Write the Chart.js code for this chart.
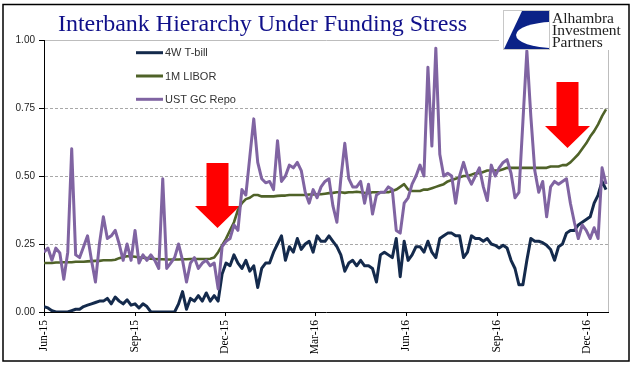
<!DOCTYPE html>
<html>
<head>
<meta charset="utf-8">
<script src="https://cdn.jsdelivr.net/npm/chart.js@4.4.1/dist/chart.umd.min.js"></script>
<style>
  html, body { margin: 0; padding: 0; background: #fff; }
  #wrap { width: 641px; height: 375px; }
</style>
</head>
<body>
<div id="wrap"><canvas id="funding-chart" width="641" height="375"></canvas></div>
<script>
// x = days since 1 Jun 2015, one reading every 4 days
const STEP_DAYS = 4;
const X_MAX = 570;
const tickDays = [0, 92, 183, 274, 366, 458, 549];
const tickLabels = ["Jun-15", "Sep-15", "Dec-15", "Mar-16", "Jun-16", "Sep-16", "Dec-16"];
const seriesNames = ["4W T-bill", "1M LIBOR", "UST GC Repo"];
const seriesColors = ["#142a4c", "#4f6228", "#8064a2"];

const tbill = [
  0.02, 0.015, 0.005, 0, 0, 0, 0, 0.005, 0.01, 0.01,
  0.02, 0.025, 0.03, 0.035, 0.04, 0.04, 0.05, 0.03, 0.055, 0.04,
  0.03, 0.045, 0.025, 0.03, 0.015, 0.03, 0.02, 0, 0, 0,
  0, 0, 0, 0, 0.03, 0.075, 0.01, 0.05, 0.04, 0.06,
  0.04, 0.07, 0.04, 0.06, 0.04, 0.14, 0.18, 0.17, 0.21, 0.18,
  0.16, 0.19, 0.15, 0.17, 0.09, 0.16, 0.18, 0.18, 0.22, 0.25,
  0.28, 0.19, 0.24, 0.22, 0.27, 0.23, 0.25, 0.26, 0.22, 0.28,
  0.26, 0.26, 0.28, 0.26, 0.24, 0.21, 0.15, 0.18, 0.19, 0.17,
  0.19, 0.17, 0.17, 0.16, 0.11, 0.21, 0.22, 0.21, 0.20, 0.27,
  0.13, 0.26, 0.19, 0.21, 0.24, 0.24, 0.22, 0.26, 0.22, 0.20,
  0.27, 0.28, 0.29, 0.29, 0.28, 0.28, 0.20, 0.22, 0.28, 0.27,
  0.27, 0.26, 0.27, 0.25, 0.245, 0.235, 0.245, 0.235, 0.19, 0.16,
  0.10, 0.10, 0.19, 0.27, 0.26, 0.26, 0.255, 0.245, 0.23, 0.19,
  0.24, 0.25, 0.29, 0.30, 0.30, 0.32, 0.33, 0.34, 0.35, 0.40,
  0.43, 0.48, 0.45
];

const libor = [
  0.18, 0.18, 0.18, 0.182, 0.182, 0.183, 0.183, 0.183, 0.185, 0.185,
  0.185, 0.186, 0.187, 0.188, 0.188, 0.19, 0.19, 0.19, 0.192, 0.198,
  0.202, 0.205, 0.205, 0.203, 0.2, 0.2, 0.198, 0.196, 0.195, 0.194,
  0.194, 0.193, 0.193, 0.193, 0.193, 0.194, 0.194, 0.195, 0.195, 0.195,
  0.195, 0.195, 0.196, 0.20, 0.22, 0.245, 0.27, 0.30, 0.33, 0.375,
  0.40, 0.415, 0.42, 0.43, 0.43, 0.425, 0.425, 0.425, 0.425, 0.427,
  0.428, 0.428, 0.43, 0.43, 0.43, 0.43, 0.43, 0.432, 0.432, 0.433,
  0.433, 0.435, 0.437, 0.438, 0.44, 0.44, 0.438, 0.44, 0.44, 0.442,
  0.44, 0.438, 0.437, 0.44, 0.44, 0.44, 0.44, 0.44, 0.445, 0.45,
  0.46, 0.47, 0.45, 0.445, 0.445, 0.445, 0.45, 0.45, 0.455, 0.46,
  0.465, 0.47, 0.48, 0.485, 0.49, 0.495, 0.50, 0.50, 0.505, 0.51,
  0.51, 0.515, 0.52, 0.52, 0.52, 0.52, 0.525, 0.53, 0.53, 0.53,
  0.53, 0.53, 0.53, 0.53, 0.53, 0.53, 0.53, 0.53, 0.535, 0.535,
  0.535, 0.54, 0.54, 0.55, 0.565, 0.58, 0.60, 0.62, 0.645, 0.665,
  0.69, 0.72, 0.745
];

const repo = [
  0.22, 0.235, 0.19, 0.235, 0.217, 0.12, 0.22, 0.60, 0.21, 0.20,
  0.24, 0.28, 0.19, 0.11, 0.25, 0.35, 0.27, 0.28, 0.30, 0.25,
  0.19, 0.25, 0.19, 0.30, 0.18, 0.21, 0.19, 0.21, 0.19, 0.16,
  0.49, 0.16, 0.18, 0.20, 0.25, 0.19, 0.11, 0.18, 0.20, 0.16,
  0.18, 0.19, 0.17, 0.18, 0.085, 0.24, 0.26, 0.27, 0.32, 0.30,
  0.45, 0.43, 0.57, 0.71, 0.55, 0.49, 0.475, 0.48, 0.45, 0.63,
  0.48, 0.50, 0.54, 0.53, 0.55, 0.52, 0.44, 0.40, 0.45, 0.42,
  0.46, 0.48, 0.49, 0.39, 0.33, 0.49, 0.62, 0.49, 0.46, 0.46,
  0.48, 0.40, 0.47, 0.36, 0.43, 0.44, 0.44, 0.46, 0.45, 0.30,
  0.29, 0.40, 0.42, 0.47, 0.50, 0.54, 0.50, 0.90, 0.61, 0.97,
  0.58, 0.50, 0.51, 0.50, 0.40, 0.50, 0.55, 0.50, 0.47, 0.50,
  0.53, 0.46, 0.41, 0.54, 0.50, 0.53, 0.55, 0.56, 0.51, 0.42,
  0.44, 0.70, 0.96, 0.72, 0.52, 0.44, 0.48, 0.35, 0.46, 0.48,
  0.47, 0.48, 0.49, 0.40, 0.33, 0.27, 0.32, 0.30, 0.27, 0.31,
  0.27, 0.53, 0.47
];

const seriesValues = [tbill, libor, repo];

function toPoints(values) {
  return values.map((v, i) => ({ x: i * STEP_DAYS, y: v }));
}

function drawArrow(ctx, cx, shaftW, shaftTop, headW, headTop, tip) {
  ctx.beginPath();
  ctx.moveTo(cx - shaftW / 2, shaftTop);
  ctx.lineTo(cx + shaftW / 2, shaftTop);
  ctx.lineTo(cx + shaftW / 2, headTop);
  ctx.lineTo(cx + headW / 2, headTop);
  ctx.lineTo(cx, tip);
  ctx.lineTo(cx - headW / 2, headTop);
  ctx.lineTo(cx - shaftW / 2, headTop);
  ctx.closePath();
  ctx.fill();
}

// title, logo, legend, arrows and frame
const decor = {
  id: "decor",
  beforeDatasetsDraw(chart) {
    const { ctx, chartArea } = chart;
    ctx.save();
    ctx.strokeStyle = "#bdbdbd";
    ctx.lineWidth = 1;
    ctx.beginPath();
    ctx.moveTo(chartArea.right + 0.5, chartArea.top);
    ctx.lineTo(chartArea.right + 0.5, chartArea.bottom);
    ctx.stroke();

    ctx.fillStyle = "#ff0000";
    drawArrow(ctx, 217.5, 22, 163, 45, 206, 228);
    drawArrow(ctx, 567.5, 22, 82, 45, 126, 148);
    ctx.restore();
  },
  afterDraw(chart) {
    const { ctx } = chart;
    ctx.save();

    // logo
    ctx.fillStyle = "#fff";
    ctx.fillRect(499, 5, 129, 45);
    ctx.save();
    ctx.beginPath();
    ctx.rect(504, 11, 45, 38);
    ctx.clip();
    ctx.fillStyle = "#0b2287";
    ctx.beginPath();
    ctx.moveTo(549, 11);
    ctx.lineTo(522, 11);
    ctx.lineTo(504, 49);
    ctx.lineTo(549, 49);
    ctx.closePath();
    ctx.fill();
    ctx.fillStyle = "#fff";
    ctx.beginPath();
    ctx.ellipse(554, 35, 38, 13, 0, 0, Math.PI * 2);
    ctx.fill();
    ctx.restore();
    ctx.strokeStyle = "#c8c8c8";
    ctx.lineWidth = 1;
    ctx.strokeRect(503.5, 10.5, 46, 39);
    ctx.fillStyle = "#1e1e1e";
    ctx.font = '15.5px "Liberation Serif"';
    ctx.textAlign = "left";
    ctx.textBaseline = "alphabetic";
    ctx.fillText("Alhambra", 552, 22.5);
    ctx.fillText("Investment", 552, 35);
    ctx.fillText("Partners", 552, 47);

    // title
    ctx.fillStyle = "#10108a";
    ctx.font = '24px "Liberation Serif"';
    ctx.textAlign = "center";
    ctx.fillText("Interbank Hierarchy Under Funding Stress", 262.5, 31);

    // legend
    const legendY = [52.7, 76, 99.3];
    ctx.font = '11px "Liberation Sans"';
    ctx.textAlign = "left";
    ctx.textBaseline = "middle";
    seriesNames.forEach((name, i) => {
      ctx.strokeStyle = seriesColors[i];
      ctx.lineWidth = 3;
      ctx.beginPath();
      ctx.moveTo(136, legendY[i]);
      ctx.lineTo(163, legendY[i]);
      ctx.stroke();
      ctx.fillStyle = "#333";
      ctx.fillText(name, 165, legendY[i] + 0.5);
    });

    // outer frame
    ctx.strokeStyle = "#000";
    ctx.lineWidth = 1.5;
    ctx.strokeRect(3, 4.5, 626, 356.5);
    ctx.restore();
  }
};

const config = {
  type: "line",
  data: {
    datasets: seriesNames.map((name, i) => ({
      label: name,
      data: toPoints(seriesValues[i]),
      borderColor: seriesColors[i],
      backgroundColor: seriesColors[i],
      borderWidth: i === 1 ? 2.6 : 3,
      pointRadius: 0,
      tension: 0,
      borderJoinStyle: "round",
      order: 2 - i
    }))
  },
  options: {
    responsive: false,
    animation: false,
    layout: { padding: { top: 40, right: 33, left: 0, bottom: 0 } },
    plugins: {
      legend: { display: false },
      title: { display: false },
      tooltip: { enabled: false }
    },
    scales: {
      x: {
        type: "linear",
        min: 0,
        max: X_MAX,
        afterBuildTicks(scale) {
          scale.ticks = tickDays.map((d) => ({ value: d }));
        },
        afterFit(scale) {
          scale.height = 63;
        },
        ticks: {
          autoSkip: false,
          minRotation: 90,
          maxRotation: 90,
          padding: 4,
          color: "#000",
          font: { family: "Liberation Serif", size: 11.5 },
          callback: (v) => tickLabels[tickDays.indexOf(v)]
        },
        grid: {
          drawOnChartArea: false,
          tickLength: 4,
          tickColor: "#000"
        },
        border: { color: "#000", width: 1 }
      },
      y: {
        min: 0,
        max: 1,
        afterBuildTicks(scale) {
          scale.ticks = [0, 0.25, 0.5, 0.75, 1].map((v) => ({ value: v }));
        },
        afterFit(scale) {
          scale.width = 44;
        },
        ticks: {
          padding: 4,
          color: "#222",
          font: { family: "Liberation Sans", size: 10 },
          callback: (v) => v.toFixed(2)
        },
        grid: {
          tickLength: 5,
          tickColor: "#000",
          color: (c) => (c.tick && c.tick.value > 0 ? (c.tick.value < 1 ? "#a8a8a8" : "#bdbdbd") : "rgba(0,0,0,0)")
        },
        border: {
          color: "#000",
          width: 1,
          dash: (c) => (c.tick && c.tick.value < 1 ? [3, 2] : [])
        }
      }
    }
  },
  plugins: [decor]
};

const fundingChart = new Chart(document.getElementById("funding-chart"), config);
</script>
</body>
</html>
